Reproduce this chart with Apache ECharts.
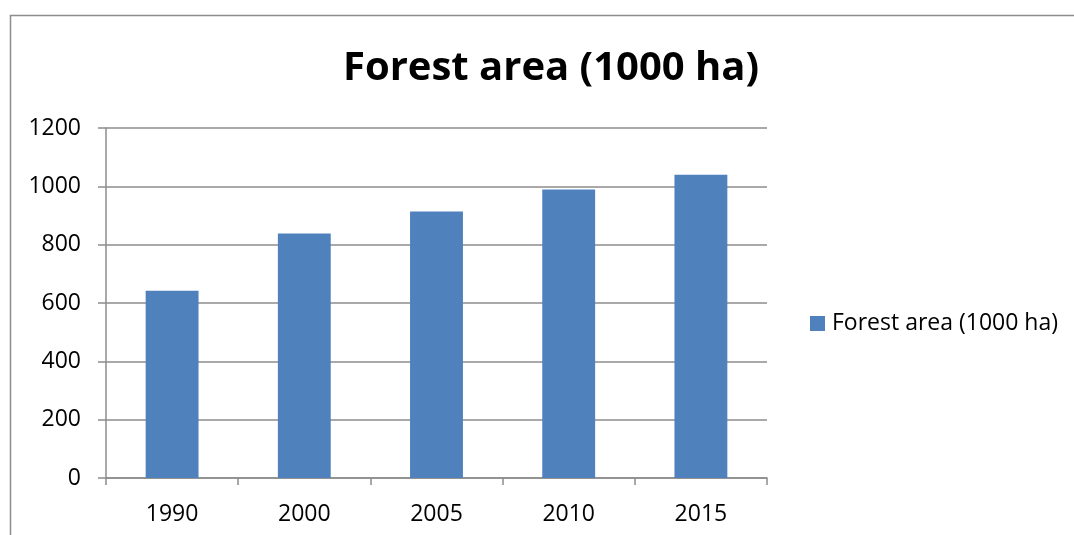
<!DOCTYPE html>
<html>
<head>
<meta charset="utf-8">
<script src="https://cdn.jsdelivr.net/npm/echarts@6/dist/echarts.min.js"></script>
<style>
  html, body { margin: 0; padding: 0; background: #fff; }
  #chart { width: 1074px; height: 535px; }
</style>
</head>
<body>
<div id="chart"></div>
<script>
// Forest area by year, thousands of hectares
const years = ['1990', '2000', '2005', '2010', '2015'];
const forestArea = [642, 838, 914, 989, 1040];
const seriesName = 'Forest area (1000 ha)';
const yTicks = [0, 200, 400, 600, 800, 1000, 1200];

const FONT = '"Open Sans", "DejaVu Sans", sans-serif';
const GRID_COLOR = '#8c8c8c';

const chart = echarts.init(document.getElementById('chart'), null, { renderer: 'canvas' });

chart.setOption({
  animation: false,
  backgroundColor: '#ffffff',
  title: {
    text: seriesName,
    left: 546,
    top: 44,
    textAlign: 'center',
    textStyle: { fontFamily: FONT, fontSize: 40, fontWeight: 'bold', color: '#000' }
  },
  graphic: [{
    type: 'rect',
    shape: { x: 10.5, y: 15.5, width: 1100, height: 600 },
    style: { fill: 'none', stroke: '#8c8c8c', lineWidth: 1.5 },
    silent: true,
    z: -1
  }],
  legend: {
    data: [seriesName],
    left: 805,
    top: 307,
    icon: 'rect',
    itemWidth: 15,
    itemHeight: 15,
    itemGap: 8,
    textStyle: { fontFamily: FONT, fontSize: 23, color: '#000', padding: [0, 0, 0, 2] }
  },
  grid: { left: 106, right: 307, top: 128, bottom: 57, containLabel: false },
  xAxis: {
    type: 'category',
    data: years,
    axisLine: { show: true, lineStyle: { color: GRID_COLOR, width: 1.5 } },
    axisTick: { show: true, length: 7, alignWithLabel: false, lineStyle: { color: GRID_COLOR, width: 1.5 } },
    axisLabel: { fontFamily: FONT, fontSize: 23, color: '#000', margin: 25 }
  },
  yAxis: {
    type: 'value',
    min: yTicks[0],
    max: yTicks[yTicks.length - 1],
    interval: yTicks[1] - yTicks[0],
    axisLine: { show: true, lineStyle: { color: GRID_COLOR, width: 1.5 } },
    axisTick: { show: true, length: 8, lineStyle: { color: GRID_COLOR, width: 1.5 } },
    axisLabel: { fontFamily: FONT, fontSize: 23, color: '#000', margin: 25, formatter: (v) => String(v) },
    splitLine: { show: true, lineStyle: { color: GRID_COLOR, width: 1.5 } }
  },
  series: [{
    name: seriesName,
    type: 'bar',
    data: forestArea,
    barWidth: '40%',
    itemStyle: { color: '#4f81bd' }
  }]
});
</script>
</body>
</html>
